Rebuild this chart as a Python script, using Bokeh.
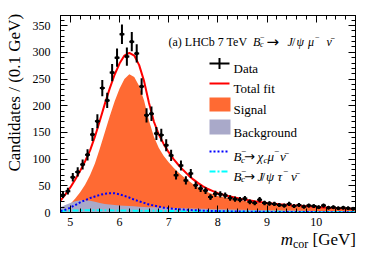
import numpy as np
from bokeh.plotting import figure
from bokeh.models import Range1d, LinearAxis, Label, SingleIntervalTicker, CustomJSTickFormatter, Div
from bokeh.layouts import column
from bokeh.embed import file_html
from bokeh.resources import INLINE

# ---------------- data ----------------
bin_lo = 4.8
bin_width = 0.1
counts = [33, 40, 66, 76, 90, 108, 146, 171, 233, 210,
          262, 290, 334, 292, 320, 298, 236, 182, 185, 148,
          145, 126, 107, 70, 88, 60, 73, 51, 45, 41,
          29, 35, 34, 32, 27, 25, 24, 26, 20, 18,
          24, 18, 17, 16, 14, 13, 16, 12, 14, 11,
          13, 12, 10, 13, 9, 10, 8, 9, 8, 7]

fit_x = [4.8, 4.9, 5.0, 5.1, 5.2, 5.3, 5.4, 5.5, 5.6, 5.7, 5.8, 5.9, 6.0, 6.1, 6.2,
         6.3, 6.4, 6.5, 6.6, 6.7, 6.8, 6.9, 7.0, 7.1, 7.2, 7.3, 7.4, 7.5, 7.6, 7.7,
         7.8, 7.9, 8.0, 8.25, 8.5, 8.75, 9.0, 9.25, 9.5, 9.75, 10.0, 10.25, 10.5, 10.8]
total_fit = [22, 34, 47, 62, 78, 96, 116, 142, 172, 203, 232, 258, 279, 294, 299,
             294, 276, 246, 205, 170, 146, 128, 113, 100, 89, 79, 70, 62, 55, 49,
             44, 40, 36, 30, 25, 21, 18, 15.5, 13.5, 12, 10.5, 9, 8, 6.5]
signal = [3, 8, 16, 26, 38, 52, 70, 92, 120, 150, 180, 208, 232, 250, 259,
          254, 237, 210, 172, 142, 121, 106, 94, 84, 75, 67, 60, 53, 47, 42,
          38, 34, 31, 26, 22, 18.5, 16, 14, 12, 10.5, 9.5, 8.5, 7.5, 6]
background = [10, 14, 18, 21, 23, 23, 22, 20, 18, 16, 15, 14, 13, 12.5, 12,
              11.5, 11, 10.5, 10, 9.8, 9.5, 9.2, 9, 8.6, 8.3, 8, 7.7, 7.4, 7.1, 6.8,
              6.5, 6.3, 6, 5.5, 5, 4.6, 4.2, 3.9, 3.6, 3.3, 3, 2.8, 2.6, 2.4]
chic = [3, 5, 9, 14, 19, 23, 27, 30, 33, 35, 36, 36, 34, 31, 28,
        24, 21, 18, 15, 13, 11, 9, 8, 7, 6, 5.4, 4.8, 4.3, 3.9, 3.5,
        3.2, 2.9, 2.6, 2.1, 1.7, 1.4, 1.2, 1.0, 0.9, 0.8, 0.7, 0.6, 0.5, 0.5]
jpsitau = [3.0, 3.3, 3.6, 3.8, 4.0, 4.1, 4.2, 4.2, 4.2, 4.1, 4.0, 3.9, 3.8, 3.7, 3.6,
           3.5, 3.4, 3.3, 3.2, 3.1, 3.0, 2.9, 2.8, 2.7, 2.6, 2.5, 2.4, 2.3, 2.2, 2.1,
           2.0, 1.9, 1.8, 1.6, 1.5, 1.4, 1.3, 1.2, 1.1, 1.0, 0.9, 0.8, 0.8, 0.7]

x_ticks_major = 1.0
y_ticks_major = 50

# ---------------- figure ----------------
W, H = 366, 230
BL, BR, BT, BB = 60, 11, 15, 18
XMIN, XMAX, YMIN, YMAX = 4.8, 10.8, 0, 369
FONT = "Liberation Serif"

p = figure(width=W, height=H, x_range=Range1d(XMIN, XMAX), y_range=Range1d(YMIN, YMAX),
           output_backend="svg", toolbar_location=None,
           min_border_left=BL, min_border_right=BR, min_border_top=BT, min_border_bottom=BB)
p.xgrid.visible = False
p.ygrid.visible = False
p.outline_line_color = "black"
p.background_fill_color = "white"
p.border_fill_color = "white"

# canvas-pixel -> data helpers (legend symbol placement)
FW, FH = W - BL - BR, H - BT - BB
def X(px):
    return XMIN + (px - BL) * (XMAX - XMIN) / FW
def Y(py):
    return YMIN + (BT + FH - py) * (YMAX - YMIN) / FH

blank = CustomJSTickFormatter(code="return ''")

def style_axis(ax, labels=True):
    ax.major_tick_in = 7
    ax.major_tick_out = 0
    ax.minor_tick_in = 4
    ax.minor_tick_out = 0
    ax.axis_line_color = "black"
    ax.major_tick_line_color = "black"
    ax.minor_tick_line_color = "black"
    ax.major_label_text_font = FONT
    ax.major_label_text_color = "black"
    ax.major_label_text_font_size = "12px"
    if not labels:
        ax.formatter = blank
        ax.major_label_standoff = 0

p.xaxis.ticker = SingleIntervalTicker(interval=x_ticks_major, num_minor_ticks=5)
p.yaxis.ticker = SingleIntervalTicker(interval=y_ticks_major, num_minor_ticks=5)
style_axis(p.xaxis[0])
style_axis(p.yaxis[0])
p.xaxis.major_label_standoff = 5
p.yaxis.major_label_standoff = 10
# ROOT-style top-aligned y title: leading no-break spaces shift the centred label upward
p.yaxis.axis_label = "\u00a0" * 10 + "Candidates / (0.1 GeV)"
p.yaxis.axis_label_text_font = FONT
p.yaxis.axis_label_text_font_size = "17px"
p.yaxis.axis_label_text_font_style = "normal"
p.yaxis.axis_label_text_color = "black"
p.yaxis.axis_label_standoff = 6

top_ax = LinearAxis(ticker=SingleIntervalTicker(interval=x_ticks_major, num_minor_ticks=5))
style_axis(top_ax, labels=False)
p.add_layout(top_ax, "above")
right_ax = LinearAxis(ticker=SingleIntervalTicker(interval=y_ticks_major, num_minor_ticks=5))
style_axis(right_ax, labels=False)
p.add_layout(right_ax, "right")

# ---------------- fit components ----------------
SIG_COL = "#FF6A33"
BKG_COL = "#A9A9C9"
p.varea(x=fit_x, y1=0, y2=signal, fill_color=SIG_COL)
p.varea(x=fit_x, y1=0, y2=background, fill_color=BKG_COL)
p.line(fit_x, jpsitau, line_color="#00FFFF", line_width=2, line_dash="6 2 2 2")
p.line(fit_x, chic, line_color="#0000FF", line_width=2, line_dash="2 2")
p.line(fit_x, total_fit, line_color="#FF0000", line_width=2)

# ---------------- data ----------------
xc = np.round(bin_lo + bin_width * (np.arange(len(counts)) + 0.5), 3)
cnt = np.array(counts, dtype=float)
err = np.sqrt(cnt)
p.segment(x0=xc, y0=cnt - err, x1=xc, y1=cnt + err, line_color="black", line_width=2)
p.segment(x0=xc - bin_width / 2, y0=cnt, x1=xc + bin_width / 2, y1=cnt, line_color="black", line_width=2)
p.scatter(xc, cnt, marker="circle", size=3, color="black")

# ---------------- text helpers (canvas pixel units) ----------------
def txt(px, py_base, s, size=13, italic=False, font=FONT):
    p.add_layout(Label(x=px, y=py_base, x_units="canvas", y_units="canvas",
                       text=s, text_font=font, text_font_size=f"{size}px",
                       text_font_style="italic" if italic else "normal",
                       text_color="black", text_align="left", text_baseline="alphabetic"))

NUBAR = "\u03bd\u0304"
MINUS = "\u2212"
ARROW = "\u2192"

# title line
tb = 41
txt(168, tb, "(a) LHCb 7 TeV", 12)
txt(252.5, tb, "B", 12, True)
txt(259.5, tb + 3, "c", 8, True)
txt(259.5, tb - 5, MINUS, 8)
txt(266, tb, ARROW, 15, font="DejaVu Sans")
txt(287, tb, "J", 12, True)
txt(291.5, tb, "/", 12)
txt(296, tb, "\u03c8", 12, True)
txt(307.5, tb, "\u03bc", 12, True)
txt(314.5, tb - 5, MINUS, 8)
txt(326, tb, NUBAR, 12, True)

# legend symbols
LX0, LX1 = 209, 229
def hseg(py, color, dash="solid", width=2):
    p.segment(x0=[X(LX0)], y0=[Y(py)], x1=[X(LX1)], y1=[Y(py)], line_color=color,
              line_width=width, line_dash=dash)

hseg(63, "black")
p.segment(x0=[X(219)], y0=[Y(57.5)], x1=[X(219)], y1=[Y(68.5)], line_color="black", line_width=2)
txt(233, 67.5, "Data")
hseg(83, "#FF0000")
txt(233, 87.5, "Total fit")
p.quad(left=[X(209)], right=[X(230)], top=[Y(97)], bottom=[Y(111)], fill_color=SIG_COL, line_color=None)
txt(233, 108.5, "Signal")
p.quad(left=[X(209)], right=[X(230)], top=[Y(119)], bottom=[Y(134)], fill_color=BKG_COL, line_color=None)
txt(233, 131.5, "Background")

hseg(151, "#0000FF", "2 2")
b1 = 156
txt(233, b1, "B", 13, True)
txt(240.5, b1 + 3, "c", 9, True)
txt(240.5, b1 - 5.5, MINUS, 9)
txt(243.5, b1, ARROW, 13, font="DejaVu Sans")
txt(257, b1, "\u03c7", 13, True)
txt(263, b1 + 3, "c", 9, True)
txt(267, b1, "\u03bc", 13, True)
txt(273.5, b1 - 5.5, MINUS, 9)
txt(279.5, b1, NUBAR, 13, True)

hseg(171, "#00FFFF", "6 2 2 2")
b2 = 175.5
txt(233, b2, "B", 13, True)
txt(240.5, b2 + 3, "c", 9, True)
txt(240.5, b2 - 5.5, MINUS, 9)
txt(243.5, b2, ARROW, 13, font="DejaVu Sans")
txt(257, b2, "J", 13, True)
txt(261, b2, "/", 13)
txt(265.5, b2, "\u03c8", 13, True)
txt(277, b2, "\u03c4", 13, True)
txt(282.5, b2 - 5.5, MINUS, 9)
txt(290.5, b2, NUBAR, 13, True)

# x-axis title, right-aligned under the frame (ROOT style)
xlab = Div(text='<i>m</i><span style="font-size:12px; position:relative; top:3px;">cor</span>&nbsp;[GeV]',
           width=W, height=20, margin=(0, 0, 0, 0),
           styles={"text-align": "right", "font-family": FONT, "font-size": "17px",
                   "line-height": "17px", "color": "black", "padding-right": "10px",
                   "padding-top": "1px", "box-sizing": "border-box", "white-space": "nowrap"})

layout = column(p, xlab, spacing=0)
open("out.html", "w").write(file_html(layout, INLINE))
